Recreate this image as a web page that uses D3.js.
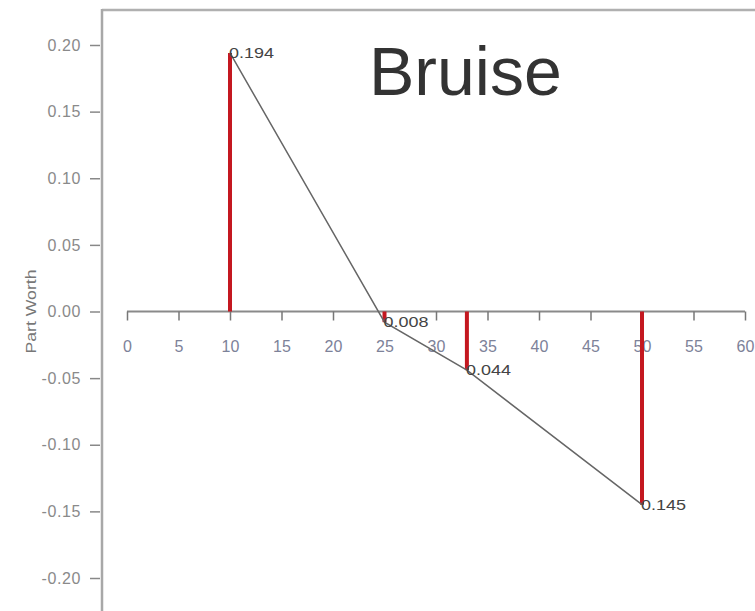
<!DOCTYPE html>
<html><head><meta charset="utf-8">
<script src="https://cdn.jsdelivr.net/npm/d3@7"></script>
<style>body{margin:0;background:#fff}svg{display:block}</style>
</head><body>
<svg id="c" width="755" height="611"></svg>
<script>
const levels = [10, 25, 33, 50];
const partWorth = [0.194, -0.008, -0.044, -0.145];
const pointLabels = ["0.194", "0.008", "0.044", "0.145"];
const xTicks = [0,5,10,15,20,25,30,35,40,45,50,55,60];
const yTicks = [0.20,0.15,0.10,0.05,0.00,-0.05,-0.10,-0.15,-0.20];
const title = "Bruise";
const yTitle = "Part Worth";

const svg = d3.select("#c");
const x = d3.scaleLinear().domain([0,60]).range([127,745]);
const y = d3.scaleLinear().domain([-0.2,0.2]).range([578,45]);
const axisX = 102, topY = 10;
const font = "Liberation Sans, Arial, sans-serif";

// frame
svg.append("line").attr("x1",axisX).attr("x2",755).attr("y1",topY).attr("y2",topY)
  .attr("stroke","#b0b0b0").attr("stroke-width",2.5);
svg.append("line").attr("x1",axisX).attr("x2",axisX).attr("y1",topY-1).attr("y2",611)
  .attr("stroke","#a8a8a8").attr("stroke-width",2.5);

// y axis
const yAxis = d3.axisLeft(y).tickValues(yTicks).tickSize(10).tickPadding(9);
const gy = svg.append("g").attr("transform",`translate(${axisX-2},0)`).call(yAxis);
gy.select(".domain").remove();
gy.selectAll(".tick line").attr("stroke","#888").attr("stroke-width",1.5);
gy.selectAll(".tick text").attr("fill","#8a8a8a").attr("font-family",font)
  .attr("font-size",16).attr("letter-spacing","0.6px").text(d => d3.format(".2f")(d).replace("−","-"));

// y title
svg.append("text").attr("transform",`translate(36,${y(0)}) rotate(-90)`).attr("text-anchor","middle")
  .attr("font-family",font).attr("font-size",14).attr("fill","#777")
  .attr("textLength",84).attr("lengthAdjust","spacingAndGlyphs").text(yTitle);

// x axis at y=0
const xAxis = d3.axisBottom(x).tickValues(xTicks).tickSize(9).tickPadding(20).tickSizeOuter(0);
const gx = svg.append("g").attr("transform",`translate(0,${y(0)})`).call(xAxis);
gx.select(".domain").attr("stroke","#8a8a8a").attr("stroke-width",2).attr("d",`M${x(0)},0H${x(60)}`);
gx.selectAll(".tick line").attr("stroke","#777").attr("stroke-width",1.5);
gx.selectAll(".tick text").attr("fill","#7d8299").attr("font-family",font)
  .attr("font-size",16);

// red bars
svg.append("g").selectAll("line").data(levels).join("line")
  .attr("x1",(d)=>x(d)).attr("x2",(d)=>x(d))
  .attr("y1",y(0)).attr("y2",(d,i)=>y(partWorth[i]))
  .attr("stroke","#c41820").attr("stroke-width",4);

// connecting line
const pts = levels.map((d,i)=>[d,partWorth[i]]);
svg.append("path").datum(pts)
  .attr("d", d3.line().x(d=>x(d[0])).y(d=>y(d[1])))
  .attr("fill","none").attr("stroke","#666").attr("stroke-width",1.5);

// point labels
svg.append("g").selectAll("text").data(pts).join("text")
  .attr("x",d=>x(d[0])-1).attr("y",d=>y(d[1])+5)
  .attr("font-family",font).attr("font-size",15).attr("fill","#444")
  .attr("textLength",45).attr("lengthAdjust","spacingAndGlyphs")
  .text((d,i)=>pointLabels[i]);

// title
svg.append("text").attr("x",369).attr("y",95).attr("font-family",font)
  .attr("font-size",68).attr("fill","#333").text(title);
</script>
</body></html>
